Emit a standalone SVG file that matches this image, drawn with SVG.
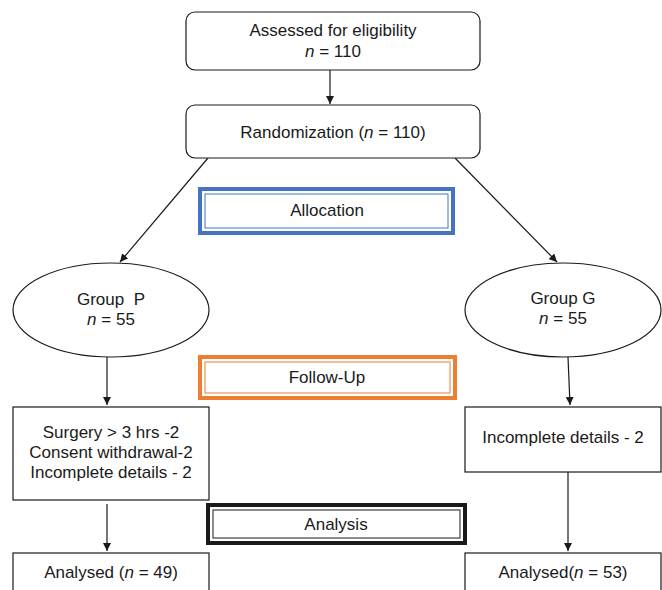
<svg xmlns="http://www.w3.org/2000/svg" width="662" height="590" viewBox="0 0 662 590">
<defs>
<marker id="ah" viewBox="0 0 10 10" refX="10" refY="5" markerWidth="8" markerHeight="8" markerUnits="userSpaceOnUse" orient="auto">
<path d="M0,0 L10,5 L0,10 z" fill="#1a1a1a"/>
</marker>
</defs>
<style>
.b{fill:#fff;stroke:#1a1a1a;stroke-width:1.2}
.t{font-family:"Liberation Sans",Arial,sans-serif;font-size:17px;fill:#1a1a1a;text-anchor:middle}
.c{stroke:#1a1a1a;stroke-width:1.2;fill:none;marker-end:url(#ah)}
.i{font-style:italic}
.o{fill:none;stroke-width:4}
.in{fill:none;stroke-width:1}
</style>
<rect width="662" height="590" fill="#fff"/>
<g id="connectors">
<line class="c" x1="330" y1="70" x2="330" y2="104"/>
<line class="c" x1="208" y1="158" x2="120" y2="262"/>
<line class="c" x1="455" y1="158" x2="557" y2="262"/>
<line class="c" x1="107" y1="357" x2="107" y2="405"/>
<line class="c" x1="568" y1="357" x2="570" y2="405"/>
<line class="c" x1="107" y1="504" x2="107" y2="551"/>
<line class="c" x1="568" y1="472" x2="568" y2="551"/>
</g>
<g id="assessed">
<rect class="b" x="186" y="12" width="294" height="58" rx="9"/>
<text class="t" x="333" y="36">Assessed for eligibility</text>
<text class="t" x="333" y="57"><tspan class="i">n</tspan> = 110</text>
</g>
<g id="randomization">
<rect class="b" x="186" y="105" width="294" height="53" rx="9"/>
<text class="t" x="333" y="138">Randomization (<tspan class="i">n</tspan> = 110)</text>
</g>
<g id="allocation">
<rect class="o" x="200" y="189" width="253" height="44" stroke="#4472C4"/>
<rect class="in" x="205" y="194" width="243" height="34" stroke="#4472C4"/>
<text class="t" x="327" y="216">Allocation</text>
</g>
<g id="groupP">
<ellipse class="b" cx="111" cy="310" rx="98" ry="47"/>
<text class="t" x="111" y="305" xml:space="preserve">Group  P</text>
<text class="t" x="111" y="325"><tspan class="i">n</tspan> = 55</text>
</g>
<g id="groupG">
<ellipse class="b" cx="563" cy="310" rx="98" ry="47"/>
<text class="t" x="563" y="304">Group G</text>
<text class="t" x="563" y="324"><tspan class="i">n</tspan> = 55</text>
</g>
<g id="followup">
<rect class="o" x="200" y="357" width="255" height="41" stroke="#ED7D31"/>
<rect class="in" x="205" y="362" width="245" height="31" stroke="#ED7D31"/>
<text class="t" x="327" y="383">Follow-Up</text>
</g>
<g id="excludedP">
<rect class="b" x="13" y="407" width="196" height="93"/>
<text class="t" x="111" y="438">Surgery &gt; 3 hrs -2</text>
<text class="t" x="111" y="458">Consent withdrawal-2</text>
<text class="t" x="111" y="478">Incomplete details - 2</text>
</g>
<g id="excludedG">
<rect class="b" x="465" y="407" width="196" height="65"/>
<text class="t" x="563" y="443">Incomplete details - 2</text>
</g>
<g id="analysis">
<rect class="o" x="208" y="505" width="257" height="38" stroke="#1a1a1a"/>
<rect class="in" x="213" y="510" width="247" height="28" stroke="#1a1a1a"/>
<text class="t" x="336" y="530">Analysis</text>
</g>
<g id="analysedP">
<rect class="b" x="13" y="553" width="196" height="50"/>
<text class="t" x="111" y="578">Analysed (<tspan class="i">n</tspan> = 49)</text>
</g>
<g id="analysedG">
<rect class="b" x="465" y="553" width="196" height="50"/>
<text class="t" x="563" y="578">Analysed(<tspan class="i">n</tspan> = 53)</text>
</g>
</svg>
